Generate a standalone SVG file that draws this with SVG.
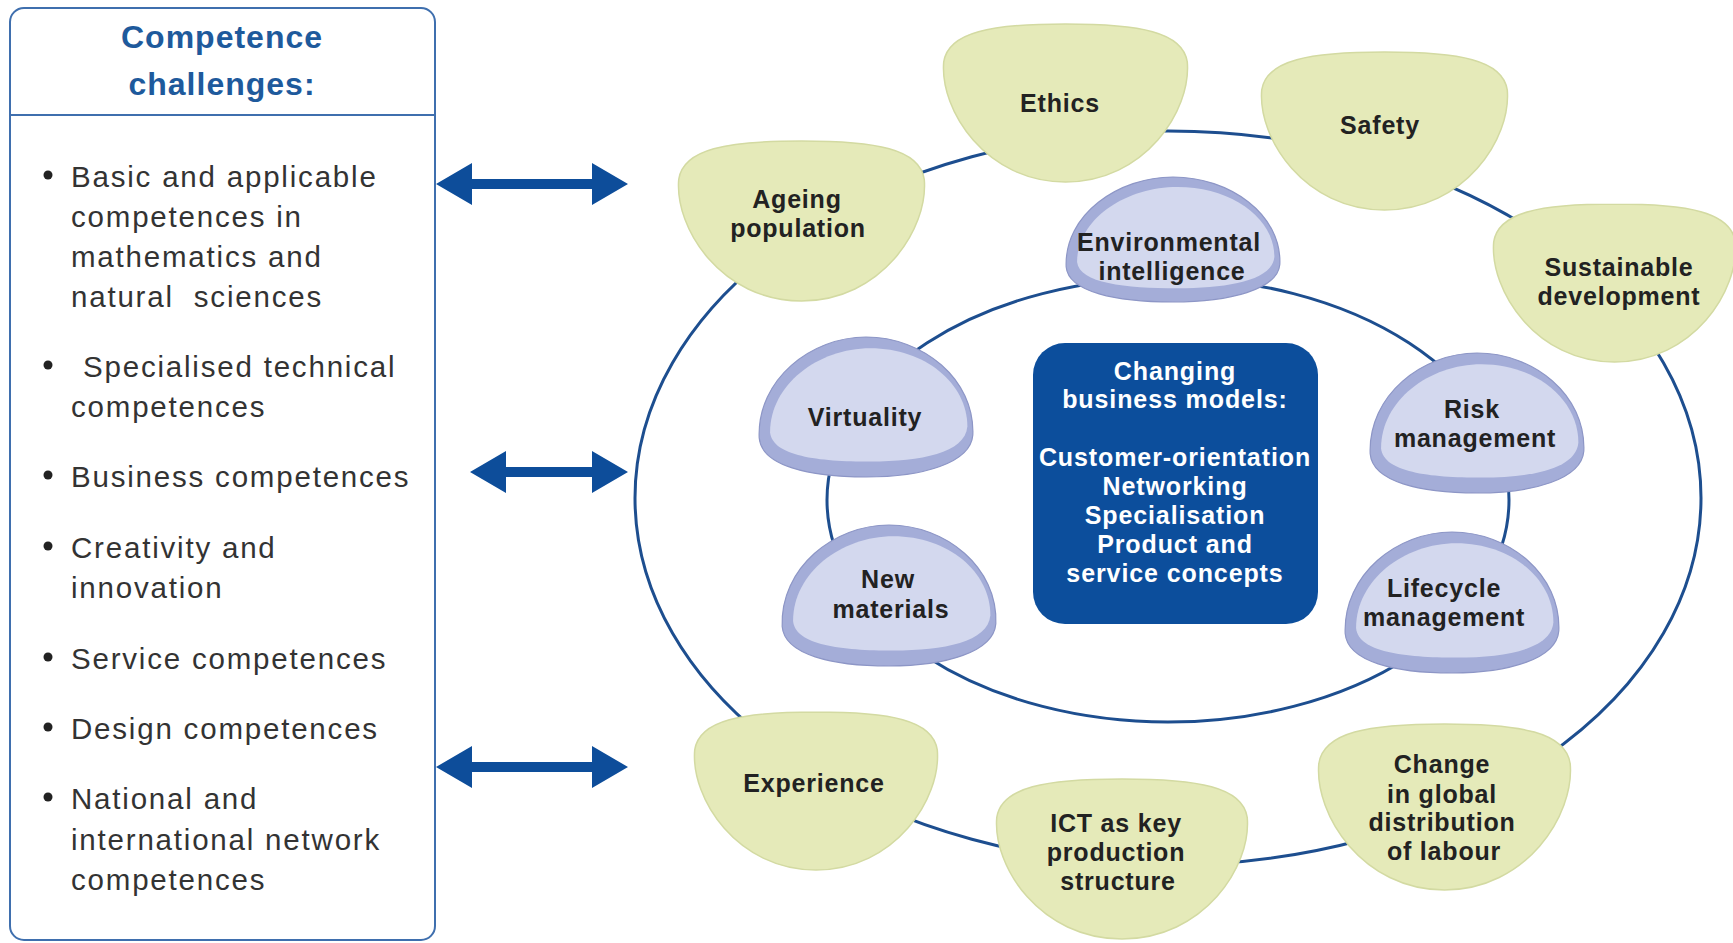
<svg xmlns="http://www.w3.org/2000/svg" xmlns:xlink="http://www.w3.org/1999/xlink" width="1733" height="943" viewBox="0 0 1733 943">
<style>
.title{font-family:"Liberation Sans",Arial,sans-serif;font-weight:bold;font-size:32px;fill:#1e5a9c;letter-spacing:1px;text-anchor:middle}
.item{font-family:"Liberation Sans",Arial,sans-serif;font-size:29.5px;fill:#333;letter-spacing:1.8px}
.lbl{font-family:"Liberation Sans",Arial,sans-serif;font-weight:bold;font-size:25px;fill:#222;letter-spacing:0.8px;text-anchor:middle}
.wlbl{font-family:"Liberation Sans",Arial,sans-serif;font-weight:bold;font-size:25px;fill:#fff;letter-spacing:0.9px;text-anchor:middle}
.ring{fill:none;stroke:#1d4e8f;stroke-width:3}
.arrow{fill:#0d4d9a}
.bowl{fill:#e5eab9;stroke:#d3daa2;stroke-width:1.5}
.domeo{fill:#a4add8;stroke:#8d96c6;stroke-width:1.2}
.domei{fill:#d3d8ee}
</style>
<defs>
<path id="bowl" vector-effect="non-scaling-stroke" d="M0.5,0 C0.8,0 0.975,0.05 0.993,0.24 C1.01,0.55 0.82,1 0.5,1 C0.18,1 -0.01,0.55 0.007,0.24 C0.025,0.05 0.2,0 0.5,0 Z"/>
<path id="domeo" vector-effect="non-scaling-stroke" d="M0.01,0.72 C0,0.3 0.25,0 0.5,0 C0.76,0 1,0.3 0.99,0.7 C0.98,0.9 0.76,1 0.5,1 C0.24,1 0.02,0.92 0.01,0.72 Z"/>
<path id="domei" d="M0.06,0.68 C0.06,0.34 0.28,0.08 0.52,0.08 C0.77,0.08 0.965,0.33 0.965,0.64 C0.955,0.83 0.75,0.89 0.52,0.89 C0.28,0.89 0.07,0.85 0.06,0.68 Z"/>
</defs>
<rect width="1733" height="943" fill="#fff"/>

<g id="challenges">
<rect x="10" y="8" width="425" height="932" rx="14" fill="#fff" stroke="#3f6fae" stroke-width="2"/>
<line x1="10" y1="115" x2="435" y2="115" stroke="#3f6fae" stroke-width="2"/>
<text class="title" x="222" y="48">Competence</text>
<text class="title" x="222" y="95">challenges:</text>
<g fill="#222">
<circle cx="48" cy="175" r="4.5"/><circle cx="48" cy="365" r="4.5"/><circle cx="48" cy="475" r="4.5"/><circle cx="48" cy="546" r="4.5"/><circle cx="48" cy="657" r="4.5"/><circle cx="48" cy="727" r="4.5"/><circle cx="48" cy="797" r="4.5"/>
</g>
<text class="item" x="71" y="187">Basic and applicable</text>
<text class="item" x="71" y="227">competences in</text>
<text class="item" x="71" y="267">mathematics and</text>
<text class="item" x="71" y="307">natural&#160; sciences</text>
<text class="item" x="83" y="377">Specialised technical</text>
<text class="item" x="71" y="417">competences</text>
<text class="item" x="71" y="487">Business competences</text>
<text class="item" x="71" y="558">Creativity and</text>
<text class="item" x="71" y="598">innovation</text>
<text class="item" x="71" y="669">Service competences</text>
<text class="item" x="71" y="739">Design competences</text>
<text class="item" x="71" y="809">National and</text>
<text class="item" x="71" y="850">international network</text>
<text class="item" x="71" y="890">competences</text>
</g>

<g id="connectors">
<ellipse class="ring" cx="1168" cy="498" rx="533" ry="367"/>
<ellipse class="ring" cx="1168" cy="500" rx="341" ry="222"/>
<path class="arrow" d="M436,184 L472,163 L472,179 L592,179 L592,163 L628,184 L592,205 L592,189 L472,189 L472,205 Z"/>
<path class="arrow" d="M470,472 L506,451 L506,467 L592,467 L592,451 L628,472 L592,493 L592,477 L506,477 L506,493 Z"/>
<path class="arrow" d="M436,767 L472,746 L472,762 L592,762 L592,746 L628,767 L592,788 L592,772 L472,772 L472,788 Z"/>
</g>

<g id="ethics"><use xlink:href="#bowl" class="bowl" transform="translate(942,24) scale(247,158)"/><text class="lbl" x="1060" y="112">Ethics</text></g>
<g id="safety"><use xlink:href="#bowl" class="bowl" transform="translate(1260,52) scale(249,158)"/><text class="lbl" x="1380" y="134">Safety</text></g>
<g id="ageing"><use xlink:href="#bowl" class="bowl" transform="translate(677,141) scale(249,160)"/><text class="lbl" x="797" y="208">Ageing</text><text class="lbl" x="798" y="237">population</text></g>
<g id="sustainable"><use xlink:href="#bowl" class="bowl" transform="translate(1492,204) scale(245,158)"/><text class="lbl" x="1619" y="276">Sustainable</text><text class="lbl" x="1619" y="305">development</text></g>
<g id="experience"><use xlink:href="#bowl" class="bowl" transform="translate(693,712) scale(246,158)"/><text class="lbl" x="814" y="792">Experience</text></g>
<g id="ict"><use xlink:href="#bowl" class="bowl" transform="translate(995,779) scale(254,160)"/><text class="lbl" x="1116" y="832">ICT as key</text><text class="lbl" x="1116" y="861">production</text><text class="lbl" x="1118" y="890">structure</text></g>
<g id="change"><use xlink:href="#bowl" class="bowl" transform="translate(1317,724) scale(255,166)"/><text class="lbl" x="1442" y="773">Change</text><text class="lbl" x="1442" y="803">in global</text><text class="lbl" x="1442" y="831">distribution</text><text class="lbl" x="1444" y="860">of labour</text></g>

<g id="environmental"><use xlink:href="#domeo" class="domeo" transform="translate(1064,177) scale(218,125)"/><use xlink:href="#domei" class="domei" transform="translate(1064,177) scale(218,125)"/><text class="lbl" x="1169" y="251">Environmental</text><text class="lbl" x="1172" y="280">intelligence</text></g>
<g id="virtuality"><use xlink:href="#domeo" class="domeo" transform="translate(757,337) scale(218,140)"/><use xlink:href="#domei" class="domei" transform="translate(757,337) scale(218,140)"/><text class="lbl" x="865" y="426">Virtuality</text></g>
<g id="risk"><use xlink:href="#domeo" class="domeo" transform="translate(1368,353) scale(218,140)"/><use xlink:href="#domei" class="domei" transform="translate(1368,353) scale(218,140)"/><text class="lbl" x="1472" y="418">Risk</text><text class="lbl" x="1475" y="447">management</text></g>
<g id="newmaterials"><use xlink:href="#domeo" class="domeo" transform="translate(780,525) scale(218,141)"/><use xlink:href="#domei" class="domei" transform="translate(780,525) scale(218,141)"/><text class="lbl" x="888" y="588">New</text><text class="lbl" x="891" y="618">materials</text></g>
<g id="lifecycle"><use xlink:href="#domeo" class="domeo" transform="translate(1343,532) scale(218,141)"/><use xlink:href="#domei" class="domei" transform="translate(1343,532) scale(218,141)"/><text class="lbl" x="1444" y="597">Lifecycle</text><text class="lbl" x="1444" y="626">management</text></g>

<g id="business-models">
<rect x="1033" y="343" width="285" height="281" rx="32" fill="#0c4e9c"/>
<text class="wlbl" x="1175" y="380">Changing</text>
<text class="wlbl" x="1175" y="408">business models:</text>
<text class="wlbl" x="1175" y="466">Customer-orientation</text>
<text class="wlbl" x="1175" y="495">Networking</text>
<text class="wlbl" x="1175" y="524">Specialisation</text>
<text class="wlbl" x="1175" y="553">Product and</text>
<text class="wlbl" x="1175" y="582">service concepts</text>
</g>
</svg>
